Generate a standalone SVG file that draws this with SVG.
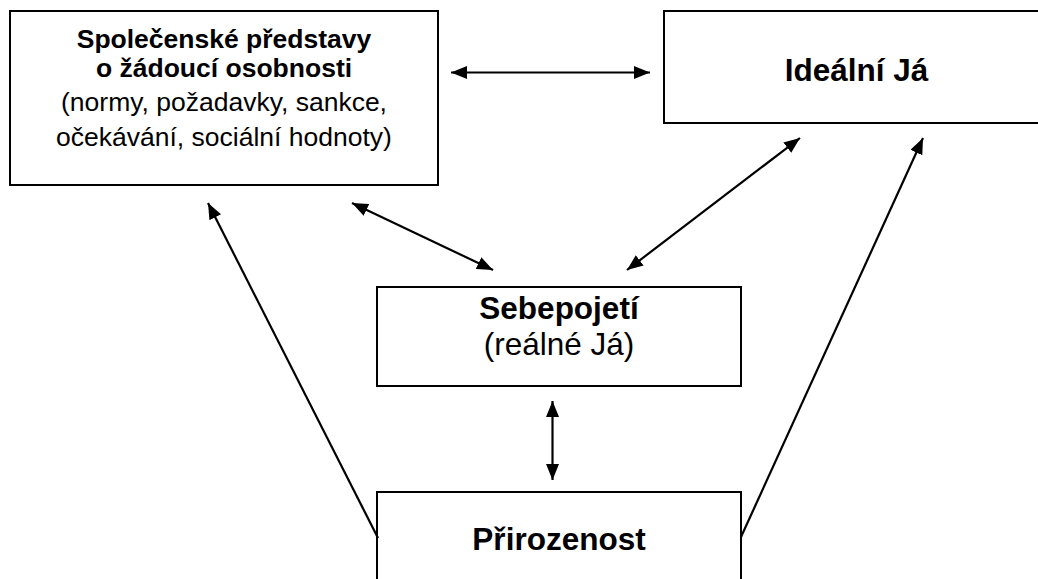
<svg xmlns="http://www.w3.org/2000/svg" width="1038" height="579" viewBox="0 0 1038 579">
<style>
.box{fill:#fff;stroke:#000;stroke-width:2}
.t{font-family:"Liberation Sans",Arial,sans-serif;fill:#000;text-anchor:middle}
.b{font-weight:bold}
.s{font-size:26.5px}
.l{font-size:31.5px}
.c{stroke:#000;stroke-width:2.2;fill:none}
</style>
<defs>
<marker id="ah" markerUnits="userSpaceOnUse" markerWidth="18" markerHeight="14" refX="16" refY="6.5" orient="auto-start-reverse">
<path d="M0,0 L16,6.5 L0,13 z" fill="#000"/>
</marker>
</defs>
<rect width="1038" height="579" fill="#fff"/>
<g id="spolecenske">
<rect class="box" x="10" y="11" width="428" height="174"/>
<text class="t b s" x="224" y="48">Společenské představy</text>
<text class="t b s" x="224" y="77">o žádoucí osobnosti</text>
<text class="t s" x="224" y="111">(normy, požadavky, sankce,</text>
<text class="t s" x="224" y="146">očekávání, sociální hodnoty)</text>
</g>
<g id="idealni">
<rect class="box" x="664" y="11" width="386" height="112"/>
<text class="t b l" x="856.5" y="81">Ideální Já</text>
</g>
<g id="sebepojeti">
<rect class="box" x="377" y="287" width="364" height="99"/>
<text class="t b l" x="559" y="319">Sebepojetí</text>
<text class="t l" x="559" y="355">(reálné Já)</text>
</g>
<g id="prirozenost">
<rect class="box" x="377" y="492" width="364" height="100"/>
<text class="t b l" x="559" y="550">Přirozenost</text>
</g>
<g id="connectors">
<line class="c" x1="451" y1="72.5" x2="650" y2="72.5" marker-start="url(#ah)" marker-end="url(#ah)"/>
<line class="c" x1="352" y1="203" x2="493" y2="270" marker-start="url(#ah)" marker-end="url(#ah)"/>
<line class="c" x1="627" y1="270" x2="800" y2="138" marker-start="url(#ah)" marker-end="url(#ah)"/>
<line class="c" x1="552.5" y1="401" x2="552.5" y2="480" marker-start="url(#ah)" marker-end="url(#ah)"/>
<line class="c" x1="378" y1="538" x2="208" y2="203" marker-end="url(#ah)"/>
<line class="c" x1="741" y1="537" x2="923" y2="138" marker-end="url(#ah)"/>
</g>
</svg>
